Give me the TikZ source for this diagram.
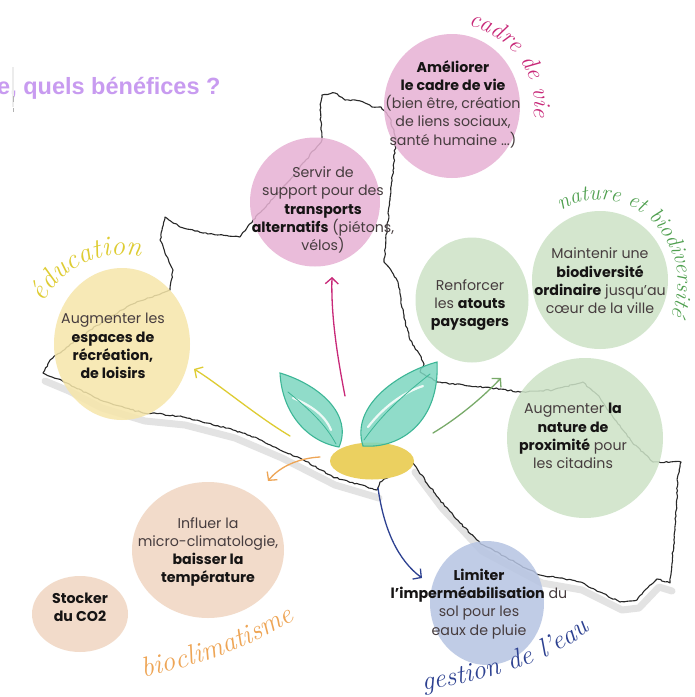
\documentclass[tikz,border=0pt]{standalone}
\usepackage{fontspec}
\newfontfamily\bodyfont{Poppins}
\newfontfamily\titlefont{Liberation Sans}
\usetikzlibrary{arrows.meta,decorations.pathmorphing,decorations.text,shapes.geometric}

\definecolor{pinkc}{RGB}{231,178,212}
\definecolor{yellowc}{RGB}{246,230,170}
\definecolor{greenc}{RGB}{205,227,199}
\definecolor{beigec}{RGB}{240,214,194}
\definecolor{bluec}{RGB}{182,196,226}
\definecolor{magentaw}{RGB}{200,40,120}
\definecolor{greenw}{RGB}{80,160,80}
\definecolor{yelloww}{RGB}{222,204,50}
\definecolor{orangew}{RGB}{238,165,85}
\definecolor{navyw}{RGB}{45,65,145}
\definecolor{greenarrow}{RGB}{120,170,105}
\definecolor{leaf}{RGB}{125,214,192}
\definecolor{leafline}{RGB}{60,182,150}
\definecolor{seedc}{RGB}{235,208,96}
\definecolor{titlec}{RGB}{200,155,240}
\definecolor{textc}{RGB}{70,60,62}
\definecolor{boldc}{RGB}{22,20,20}
\definecolor{mapline}{RGB}{40,40,40}

\newcommand{\hb}[1]{{\bfseries\color{boldc}#1}}

\tikzset{
  blob/.style={ellipse, inner sep=0pt, draw=none, fill opacity=0.86, text opacity=1},
  bodytext/.style={align=center, text=textc, inner sep=0pt,
    font=\bodyfont\fontsize{14.2}{18.3}\selectfont},
  border/.style={draw=mapline, line width=1.1pt, line join=round,
    decorate, decoration={random steps, segment length=2.6pt, amplitude=0.7pt}},
  bordershadow/.style={draw=gray!22, line width=7pt, line join=round, line cap=round},
  benefit/.style={line width=1.3pt, line cap=round,
    -{Straight Barb[length=6pt,width=13pt,line width=1.3pt]}},
  leafshape/.style={fill=leaf, fill opacity=0.85, draw=leafline, line width=1.1pt},
  hand/.style={decorate, decoration={text along path, text align=center}},
}

\begin{document}
\pgfmathsetseed{7}
\begin{tikzpicture}[x=1pt,y=-1pt]
\useasboundingbox (0,0) rectangle (695,697);
\fill[white] (0,0) rectangle (695,697);

% heading, cut at the left edge
\node[anchor=base west, inner sep=0pt, text=titlec,
  font=\titlefont\bfseries\fontsize{23.5}{24}\selectfont] (title) at (-3,94) {e, quels bénéfices ?};
\draw[gray!15, line width=2pt] (13,67) -- (13,107);
\draw[gray!60, line width=0.8pt] (13,96) -- (13,102) (13,108) -- (13,112);

% soft shadow under the southern edge of the territory
\draw[bordershadow, shift={(2,6)}] (43,375) -- (67,385) -- (100,402) -- (143,415) -- (183,419)
  -- (233,432) -- (280,452) -- (333,479) -- (377,492);
\draw[bordershadow, shift={(2,6)}] (413,466) -- (440,502) -- (480,545) -- (540,577) -- (580,584)
  -- (620,604) -- (637,602) -- (657,581) -- (670,585);

% outline of the territory
\draw[border] (322,95) -- (335,93) -- (345,100) -- (355,100) -- (365,103) -- (372,107)
  -- (381,107) -- (390,118) -- (396,140) -- (393,170) -- (390,200) -- (387,230) -- (384,262)
  -- (392,272) -- (398,282) -- (401,300) -- (404,318) -- (410,340) -- (420,355) -- (424,364)
  -- (420,372) -- (437,382) -- (470,386) -- (500,389) -- (520,392) -- (553,390) -- (583,382)
  -- (600,398) -- (615,420) -- (632,442) -- (653,462) -- (681,462) -- (678,475) -- (675,530)
  -- (670,583) -- (657,579) -- (645,590) -- (637,600) -- (620,602) -- (600,592) -- (580,582)
  -- (560,578) -- (540,575) -- (520,565) -- (480,543) -- (460,523) -- (440,500) -- (425,480)
  -- (413,463) -- (380,482) -- (377,490) -- (367,487) -- (333,477) -- (300,458) -- (280,450)
  -- (257,438) -- (233,430) -- (207,423) -- (183,417) -- (153,413) -- (143,413) -- (100,400)
  -- (67,383) -- (43,373) -- (50,360) -- (90,330) -- (130,305) -- (170,290) -- (173,270)
  -- (160,240) -- (165,217) -- (180,227) -- (203,233) -- (240,237) -- (253,220) -- (290,180)
  -- (322,140) -- (320,110) -- cycle;

% benefit bubbles
\node[blob, fill=pinkc,   minimum width=136, minimum height=144] (cadre)    at (452,106) {};
\node[blob, fill=pinkc,   minimum width=130, minimum height=129] (mobil)    at (315,202) {};
\node[blob, fill=yellowc, minimum width=136, minimum height=152] (loisirs)  at (122,344) {};
\node[blob, fill=greenc,  minimum width=113, minimum height=125] (paysage)  at (472,300) {};
\node[blob, fill=greenc,  minimum width=136, minimum height=138] (biodiv)   at (600,280) {};
\node[blob, fill=greenc,  minimum width=156, minimum height=160] (proxi)    at (585,438) {};
\node[blob, fill=beigec,  minimum width=152, minimum height=136] (climat)   at (208,550) {};
\node[blob, fill=beigec,  minimum width=96,  minimum height=76]  (carbone)  at (80,614)  {};
\node[blob, fill=bluec,   minimum width=114, minimum height=124] (eau)      at (487,603) {};

% bubble texts
\node[bodytext] (cadreT) at (453,104) {\hb{Améliorer}\\\hb{le cadre de vie}\\(bien être, création\\de liens sociaux,\\santé humaine ...)};
\node[bodytext] (mobilT) at (323,210) {Servir de\\support pour des\\\hb{transports}\\\hb{alternatifs} (piétons,\\vélos)};
\node[bodytext] (loisirsT) at (113,346) {Augmenter les\\\hb{espaces de}\\\hb{récréation,}\\\hb{de loisirs}};
\node[bodytext] (paysageT) at (470,305) {Renforcer\\les \hb{atouts}\\\hb{paysagers}};
\node[bodytext] (biodivT) at (600,281) {Maintenir une\\\hb{biodiversité}\\\hb{ordinaire} jusqu’au\\cœur de la ville};
\node[bodytext] (proxiT) at (573,436) {Augmenter \hb{la}\\\hb{nature de}\\\hb{proximité} pour\\les citadins};
\node[bodytext] (climatT) at (208,552) {Influer la\\micro-climatologie,\\\hb{baisser la}\\\hb{température}};
\node[bodytext] (carboneT) at (80,607) {\hb{Stocker}\\\hb{du CO2}};
\node[bodytext] (eauT) at (479,604) {\hb{Limiter}\\\hb{l’imperméabilisation} du\\sol pour les\\eaux de pluie};

% arrows leaving the sprout
\coordinate (m0) at (345,396);  \coordinate (m1) at (332,277);
\coordinate (y0) at (290,436);  \coordinate (y1) at (194,369);
\coordinate (g0) at (433,433);  \coordinate (g1) at (501,378);
\coordinate (o0) at (320,457);  \coordinate (o1) at (268,481);
\coordinate (n0) at (378,488);  \coordinate (n1) at (422,578);
\draw[benefit, magentaw]   (m0) .. controls (336,350) and (331,312) .. (m1);
\draw[benefit, yelloww]    (y0) .. controls (255,415) and (220,385) .. (y1);
\draw[benefit, greenarrow] (g0) .. controls (458,418) and (482,398) .. (g1);
\draw[benefit, orangew]    (o0) .. controls (300,458) and (280,466) .. (o1);
\draw[benefit, navyw]      (n0) .. controls (384,530) and (398,560) .. (n1);

% sprout: seed and two leaves
\node[ellipse, fill=seedc, minimum width=84, minimum height=37, inner sep=0pt] (seed) at (372,461) {};
\path[leafshape] (280,373) .. controls (320,385) and (353,415) .. (339,447)
  .. controls (306,441) and (282,412) .. (280,373) -- cycle;
\draw[white, line width=2.2pt, line cap=round, opacity=0.85] (293,398) .. controls (310,405) and (325,415) .. (331,430);
\draw[leafline, line width=0.8pt, line cap=round] (288,392) .. controls (310,410) and (326,425) .. (336,444);
\path[leafshape] (437,362) .. controls (400,372) and (350,405) .. (363,446)
  .. controls (402,449) and (440,420) .. (437,362) -- cycle;
\draw[white, line width=2.2pt, line cap=round, opacity=0.85] (368,427) .. controls (385,405) and (405,392) .. (423,386);
\draw[leafline, line width=0.8pt, line cap=round] (364,440) .. controls (385,410) and (410,390) .. (430,374);

% hand-written theme labels
\path[hand, decoration={text={|\rmfamily\itshape\fontsize{24}{24}\selectfont|cadre de vie}, text color=magentaw}]
  (466,25) .. controls (510,33) and (541,76) .. (533,120);
\path[hand, decoration={text={|\rmfamily\itshape\fontsize{22}{22}\selectfont|nature et biodiversité}, text color=greenw}]
  (553,216) .. controls (582,193) and (622,195) .. (650,219)
  .. controls (679,245) and (686,289) .. (667,323);
\path[hand, decoration={text={|\rmfamily\itshape\fontsize{28}{28}\selectfont|éducation}, text color=yelloww}]
  (39,313) .. controls (56,267) and (106,244) .. (152,260);
\path[hand, decoration={text={|\rmfamily\itshape\fontsize{28}{28}\selectfont|bioclimatisme}, text color=orangew}]
  (130,680) .. controls (190,668) and (252,650) .. (306,612);
\path[hand, decoration={text={|\rmfamily\itshape\fontsize{27}{27}\selectfont|gestion de l'eau}, text color=navyw}]
  (413,692) .. controls (480,682) and (552,665) .. (598,624);
\end{tikzpicture}
\end{document}
